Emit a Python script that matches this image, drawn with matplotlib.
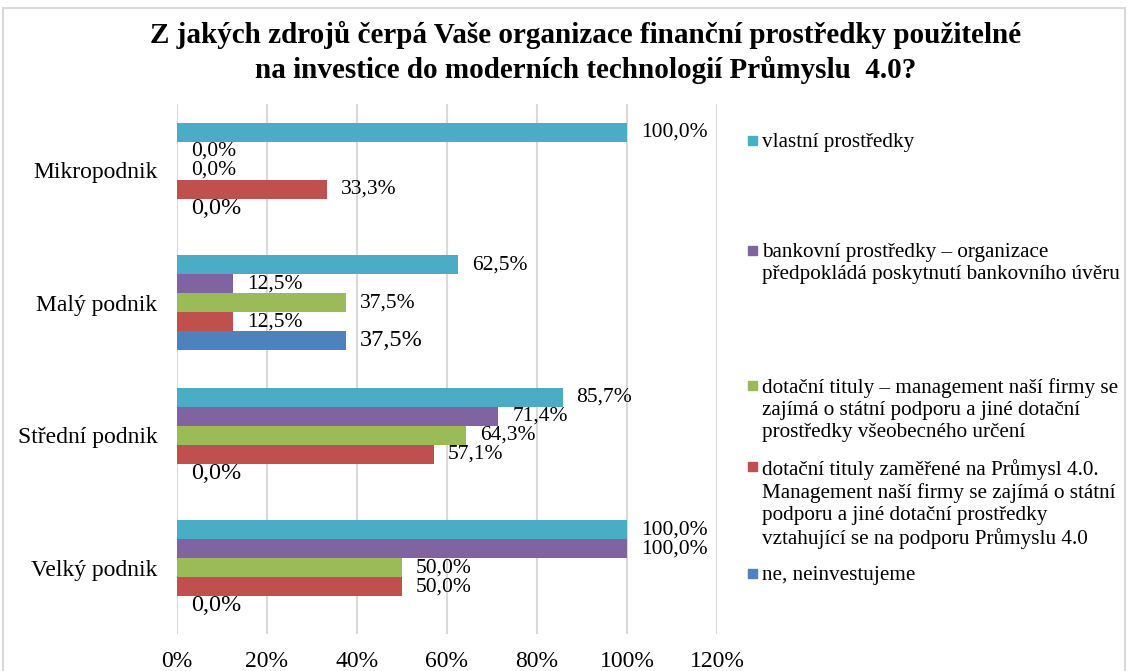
import matplotlib
matplotlib.use("Agg")
import matplotlib.pyplot as plt
from matplotlib.patches import Rectangle
import numpy as np

plt.rcParams['font.family'] = ['Liberation Serif', 'DejaVu Serif']

# data
categories = ['Mikropodnik', 'Malý podnik', 'Střední podnik', 'Velký podnik']
series_names = [
    'vlastní prostředky',
    'bankovní prostředky – organizace\npředpokládá poskytnutí bankovního úvěru',
    'dotační tituly – management naší firmy se\nzajímá o státní podporu a jiné dotační\nprostředky všeobecného určení',
    'dotační tituly zaměřené na Průmysl 4.0.\nManagement naší firmy se zajímá o státní\npodporu a jiné dotační prostředky\nvztahující se na podporu Průmyslu 4.0',
    'ne, neinvestujeme',
]
vlastni = [100.0, 62.5, 85.7, 100.0]
bankovni = [0.0, 12.5, 71.4, 100.0]
dotacni = [0.0, 37.5, 64.3, 50.0]
dotacni_i40 = [33.3, 12.5, 57.1, 50.0]
neinvestujeme = [0.0, 37.5, 0.0, 0.0]
series_values = [vlastni, bankovni, dotacni, dotacni_i40, neinvestujeme]
colors = ['#4BACC6', '#8064A2', '#9BBB59', '#C0504D', '#4F81BD']
x_ticks = [0, 20, 40, 60, 80, 100, 120]

fig = plt.figure(figsize=(11.29, 6.71), dpi=100)
ax = fig.add_axes([177/1129, 1-634/671, 540/1129, 530/671])

y = np.arange(len(categories))
h = 0.143
for i, (vals, col) in enumerate(zip(series_values, colors)):
    pos = y + (i - 2) * h
    ax.barh(pos, vals, height=h, color=col, zorder=3)
    fs = 17.5 if i == 4 else 15.5
    for p, v in zip(pos, vals):
        ax.annotate(f'{v:.1f}%'.replace('.', ','), (v, p), xytext=(10, 0),
                    textcoords='offset points', va='center', ha='left', fontsize=fs)

ax.set_xlim(0, 120)
ax.set_ylim(3.5, -0.5)
ax.set_xticks(x_ticks)
ax.set_xticklabels([f'{t}%' for t in x_ticks], fontsize=17)
ax.set_yticks(y)
ax.set_yticklabels(categories, fontsize=17)
ax.tick_params(axis='both', length=0)
ax.tick_params(axis='x', pad=12)
ax.tick_params(axis='y', pad=14)
ax.grid(axis='x', color='#D9D9D9', linewidth=1.5, zorder=0)
for s in ax.spines.values():
    s.set_visible(False)

# title
fig.text(0.519, 1-35/671, 'Z jakých zdrojů čerpá Vaše organizace finanční prostředky použitelné',
         ha='center', va='center', fontsize=21, fontweight='bold')
fig.text(0.519, 1-70/671, 'na investice do moderních technologií Průmyslu  4.0?',
         ha='center', va='center', fontsize=21, fontweight='bold')

# legend, placed like the original
legend_y = [140, 250, 385, 466, 573]
for name, col, ly in zip(series_names, colors, legend_y):
    fig.patches.append(Rectangle((748/1129, 1-(ly+5)/671), 9/1129, 9/671,
                                 transform=fig.transFigure, color=col, figure=fig))
    fig.text(762/1129, 1-(ly-7)/671, name, ha='left', va='top',
             fontsize=15.2, linespacing=1.2)

# outer border
fig.patches.append(Rectangle((3/1129, -0.01), 1122/1129, 1-8/671+0.01, transform=fig.transFigure,
                             fill=False, edgecolor='#D9D9D9', linewidth=1.5, figure=fig))

fig.savefig('out.png', dpi=100)
